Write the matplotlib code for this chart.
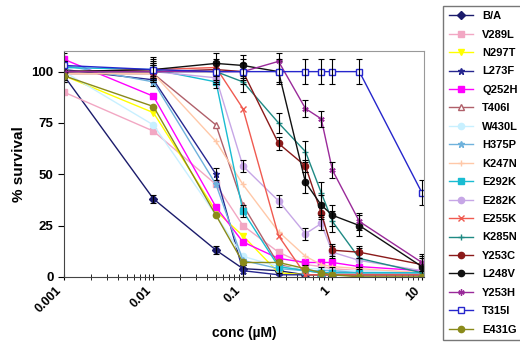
import numpy as np
import matplotlib.pyplot as plt

# concentrations (uM)
conc = [0.001, 0.01, 0.05, 0.1, 0.25, 0.5, 0.75, 1, 2, 10]

# % survival per mutant
ba    = [98, 38, 13, 4, 3, 1, 1, 1, 1, 1]
v289l = [90, 71, 45, 25, 12, 6, 5, 4, 3, 2]
n297t = [98, 80, 32, 20, 2, 1, 1, 1, 1, 1]
l273f = [101, 96, 50, 3, 1, 1, 1, 1, 1, 1]
q252h = [106, 88, 34, 17, 9, 7, 7, 7, 5, 3]
t406i = [99, 99, 74, 35, 6, 3, 2, 2, 2, 2]
w430l = [100, 74, 30, 10, 5, 4, 4, 3, 3, 2]
h375p = [103, 95, 45, 8, 4, 3, 3, 3, 2, 2]
k247n = [99, 99, 66, 45, 22, 10, 6, 5, 4, 2]
e292k = [102, 101, 95, 32, 5, 3, 2, 2, 2, 2]
e282k = [100, 100, 97, 54, 37, 21, 26, 12, 8, 3]
e255k = [100, 101, 102, 82, 20, 1, 1, 1, 1, 1]
k285n = [100, 100, 100, 95, 75, 61, 41, 27, 9, 2]
y253c = [100, 100, 101, 100, 65, 54, 31, 13, 12, 6]
l248v = [100, 101, 104, 103, 100, 46, 35, 30, 25, 5]
y253h = [100, 100, 100, 100, 105, 82, 77, 52, 27, 7]
t315i = [103, 101, 100, 100, 100, 100, 100, 100, 100, 41]
e431g = [98, 83, 30, 7, 7, 4, 2, 1, 0, 0]

labels = ['B/A', 'V289L', 'N297T', 'L273F', 'Q252H', 'T406I', 'W430L', 'H375P',
          'K247N', 'E292K', 'E282K', 'E255K', 'K285N', 'Y253C', 'L248V', 'Y253H',
          'T315I', 'E431G']
series = [ba, v289l, n297t, l273f, q252h, t406i, w430l, h375p, k247n, e292k,
          e282k, e255k, k285n, y253c, l248v, y253h, t315i, e431g]

# error bars (only the ones clearly drawn)
err = {'B/A': 2, 'L273F': 3, 'K285N': 5, 'Y253C': 3, 'L248V': 5,
       'Y253H': 4, 'T315I': 6, 'E282K': 3, 'E292K': 3}

styles = [
    ('#1b1b6b', 'D', '#1b1b6b'),
    ('#f2a7c3', 's', '#f2a7c3'),
    ('#ffff00', 'v', '#ffff00'),
    ('#26268f', '*', '#26268f'),
    ('#ff00ff', 's', '#ff00ff'),
    ('#b0606a', '^', 'white'),
    ('#c8f0ff', 'o', '#c8f0ff'),
    ('#6fb2dc', '*', '#6fb2dc'),
    ('#ffc8a8', '+', '#ffc8a8'),
    ('#19bcd2', 's', '#19bcd2'),
    ('#c6a6e6', 'o', '#c6a6e6'),
    ('#f05a50', 'x', '#f05a50'),
    ('#1f8a84', '+', '#1f8a84'),
    ('#8b1a1a', 'o', '#8b1a1a'),
    ('#111111', 'o', '#111111'),
    ('#9a2a9a', (6, 2, 0), '#9a2a9a'),
    ('#2626cc', 's', 'white'),
    ('#8a8a1a', 'o', '#8a8a1a'),
]

plt.rcParams['font.family'] = ['Liberation Sans', 'DejaVu Sans']
plt.rcParams['font.weight'] = 'bold'

fig = plt.figure(figsize=(5.2, 3.5), dpi=100)
ax = fig.add_axes([0.123, 0.209, 0.692, 0.645])

for lab, y, (c, m, fc) in zip(labels, series, styles):
    ax.plot(conc, y, color=c, marker=m, markerfacecolor=fc, markeredgecolor=c,
            markersize=4.5, linewidth=1.0, label=lab)
    if lab in err:
        ax.errorbar(conc, y, yerr=err[lab], fmt='none', ecolor='black',
                    elinewidth=0.8, capsize=2.5, capthick=0.8)

ax.set_xscale('log')
ax.set_xlim(0.001, 10.5)
ax.set_ylim(0, 110)
ax.set_yticks([0, 25, 50, 75, 100])
ax.set_xticks([0.001, 0.01, 0.1, 1, 10])
ax.set_xticklabels(['0.001', '0.01', '0.1', '1', '10'], rotation=45,
                   ha='right', fontsize=9, fontweight='bold')
ax.tick_params(axis='y', labelsize=9.5, direction='out', length=4)
ax.tick_params(axis='x', which='both', direction='inout', length=4)
for s in ['top', 'right']:
    ax.spines[s].set_color('#999999')
ax.spines['left'].set_color('#444444')
ax.spines['bottom'].set_color('#444444')

ax.set_xlabel('conc (\u00b5M)', fontsize=10, fontweight='bold', labelpad=8)
ax.set_ylabel('% survival', fontsize=11, fontweight='bold')

handles, labs = ax.get_legend_handles_labels()
leg = fig.legend(handles, labs, loc='upper left', bbox_to_anchor=(0.842, 1.0),
                 frameon=True, fancybox=False, edgecolor='#555555',
                 labelspacing=0.76, handlelength=2.2, borderpad=0.5,
                 prop={'weight': 'bold', 'size': 8})

fig.savefig('out.png', dpi=100)
